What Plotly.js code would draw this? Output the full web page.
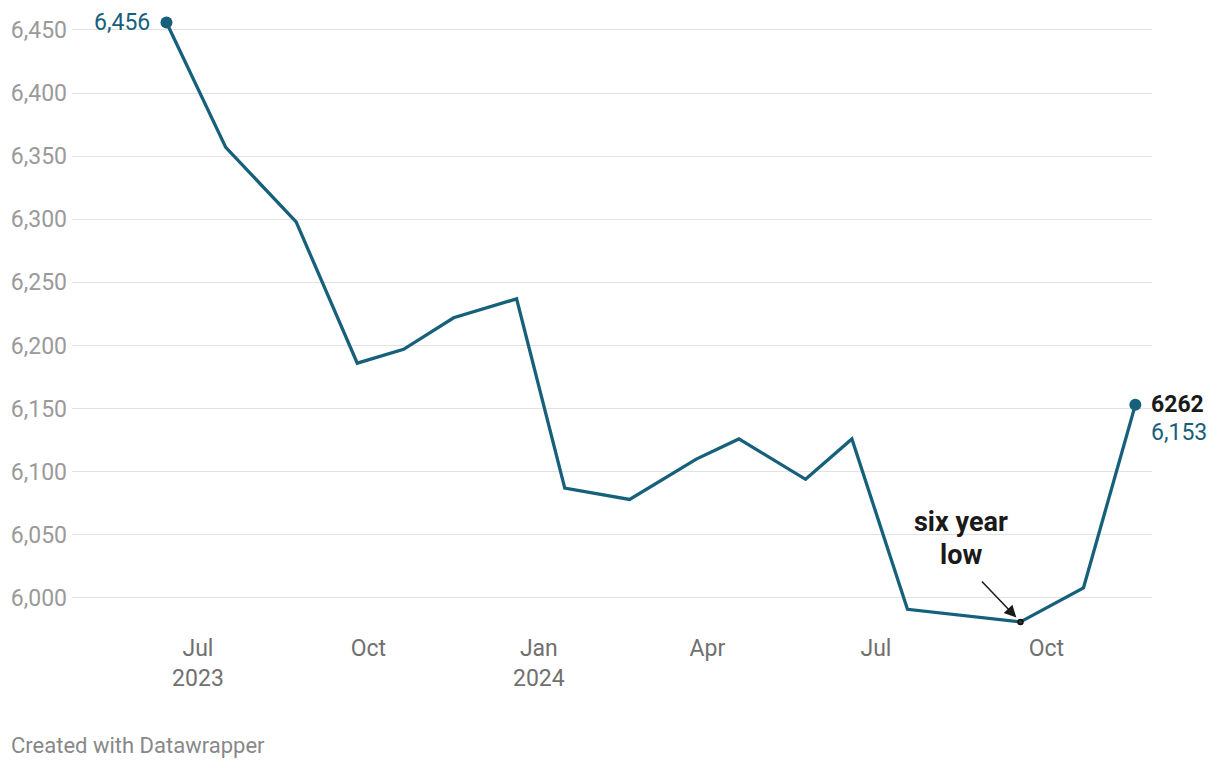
<!DOCTYPE html>
<html>
<head>
<meta charset="utf-8">
<script src="https://cdn.plot.ly/plotly-3.0.1.min.js"></script>
<style>
  body { margin: 0; background: #fff; font-family: Roboto, sans-serif; }
  #chart { width: 1220px; height: 768px; }
</style>
</head>
<body>
<div id="chart"></div>
<script>
// monthly figures
var dates = ["2023-06-14", "2023-07-16", "2023-08-23", "2023-09-25", "2023-10-20",
             "2023-11-16", "2023-12-20", "2024-01-15", "2024-02-19", "2024-03-26",
             "2024-04-18", "2024-05-24", "2024-06-18", "2024-07-18", "2024-09-17",
             "2024-10-21", "2024-11-18"];
var values = [6456, 6357, 6298, 6186, 6197, 6222, 6237, 6087, 6078, 6110,
              6126, 6094, 6126, 5991, 5981, 6008, 6153];

var tickDates = ["2023-07-01", "2023-10-01", "2024-01-01", "2024-04-01", "2024-07-01", "2024-10-01"];
var tickLabels = ["Jul<br>2023", "Oct", "Jan<br>2024", "Apr", "Jul", "Oct"];
var yTicks = [6000, 6050, 6100, 6150, 6200, 6250, 6300, 6350, 6400, 6450];

var lineColor = "#17607b";
var first = 0, last = values.length - 1;
var low = values.indexOf(Math.min.apply(null, values));

function fmt(v) {
    return v.toLocaleString("en-US");
}

var data = [
    {
        type: "scatter",
        mode: "lines",
        x: dates,
        y: values,
        line: { color: lineColor, width: 3.3 },
        hoverinfo: "x+y"
    },
    {
        type: "scatter",
        mode: "markers",
        x: [dates[first], dates[last]],
        y: [values[first], values[last]],
        marker: { color: lineColor, size: 12 },
        hoverinfo: "skip"
    },
    {
        type: "scatter",
        mode: "markers",
        x: [dates[low]],
        y: [values[low]],
        marker: { color: "#333", size: 5, line: { color: "#111", width: 1.5 } },
        hoverinfo: "skip"
    }
];

var layout = {
    width: 1220,
    height: 768,
    margin: { l: 72, r: 68, t: 5, b: 138 },
    paper_bgcolor: "#fff",
    plot_bgcolor: "#fff",
    showlegend: false,
    font: { family: "Roboto, sans-serif", size: 23, color: "#999" },
    xaxis: {
        type: "date",
        range: ["2023-04-24", "2024-11-27"],
        tickvals: tickDates,
        ticktext: tickLabels,
        tickfont: { color: "#707070", size: 23 },
        showgrid: false,
        zeroline: false,
        showline: false,
        ticks: "",
        ticklabelstandoff: 2
    },
    yaxis: {
        range: [5974.6, 6469.8],
        tickvals: yTicks,
        ticktext: yTicks.map(fmt),
        tickfont: { color: "#9a9a9a", size: 23 },
        showgrid: true,
        gridcolor: "#e2e2e2",
        gridwidth: 1,
        zeroline: false,
        showline: false,
        ticks: "",
        ticklabelstandoff: 4
    },
    annotations: [
        {
            x: dates[first], y: values[first], xref: "x", yref: "y",
            text: fmt(values[first]), showarrow: false,
            xanchor: "right", yanchor: "middle", xshift: -14,
            font: { color: lineColor, size: 23 }
        },
        {
            x: dates[last], y: values[last], xref: "x", yref: "y",
            text: "<b>6262</b>", showarrow: false,
            xanchor: "left", yanchor: "middle", xshift: 14,
            font: { color: "#1a1a1a", size: 23 }
        },
        {
            x: dates[last], y: values[last], xref: "x", yref: "y",
            text: fmt(values[last]), showarrow: false,
            xanchor: "left", yanchor: "middle", xshift: 14, yshift: -28,
            font: { color: lineColor, size: 23 }
        },
        {
            x: dates[low], y: values[low], xref: "x", yref: "y",
            text: "<b>six year</b>", showarrow: false,
            xanchor: "center", yanchor: "middle", xshift: -59, yshift: 100,
            font: { color: "#1a1a1a", size: 27 }
        },
        {
            x: dates[low], y: values[low], xref: "x", yref: "y",
            text: "<b>low</b>", showarrow: false,
            xanchor: "center", yanchor: "middle", xshift: -59, yshift: 67,
            font: { color: "#1a1a1a", size: 27 }
        },
        {
            x: dates[low], y: values[low], xref: "x", yref: "y",
            text: "", showarrow: true,
            arrowhead: 2, arrowsize: 1.6, arrowwidth: 1.5, arrowcolor: "#1a1a1a",
            ax: -40, ay: -42, standoff: 6
        },
        {
            x: 0, y: 0, xref: "paper", yref: "paper",
            text: "Created with Datawrapper", showarrow: false,
            xanchor: "left", yanchor: "middle", xshift: -63, yshift: -115,
            font: { color: "#888", size: 22 }
        }
    ]
};

Plotly.newPlot("chart", data, layout, { displayModeBar: false, staticPlot: true });
</script>
</body>
</html>
